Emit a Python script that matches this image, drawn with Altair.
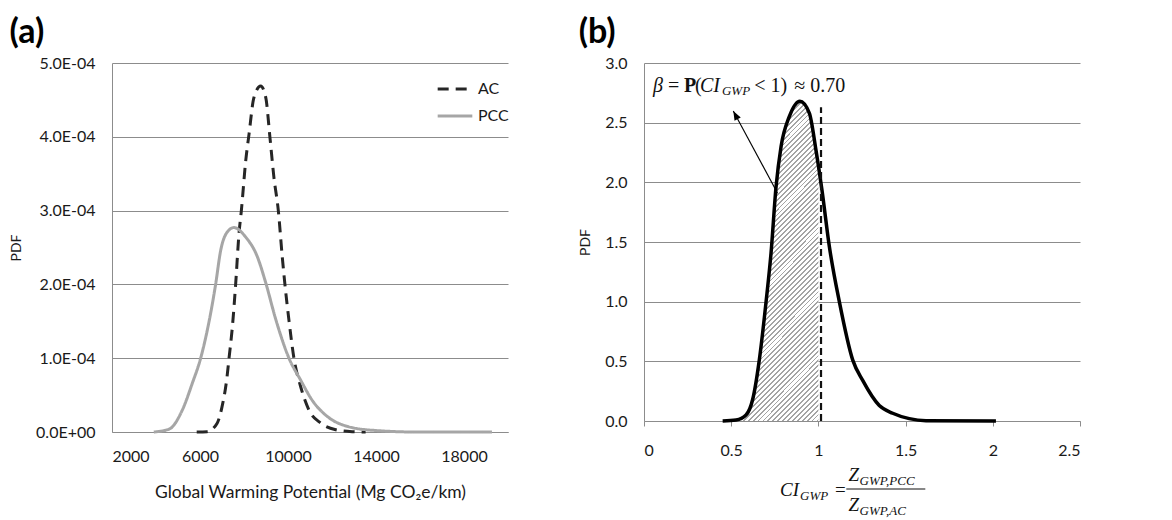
import altair as alt
import pandas as pd

# ---------------- Panel (a) data ----------------
ac_x = [5850, 6320, 6780, 7000, 7230, 7320, 7470, 7620, 7770, 7880, 8080, 8230, 8450, 8760,
        8990, 9180, 9360, 9560, 9740, 9860, 10045, 10270, 10580, 10950, 11490, 12170, 12920, 13530]
ac_y = [0.0, 0.005e-4, 0.12e-4, 0.34e-4, 0.75e-4, 1.0e-4, 1.42e-4, 2.0e-4, 2.68e-4, 3.0e-4, 3.68e-4,
        4.04e-4, 4.53e-4, 4.69e-4, 4.53e-4, 3.99e-4, 3.45e-4, 3.0e-4, 2.37e-4, 2.0e-4, 1.51e-4,
        1.0e-4, 0.61e-4, 0.30e-4, 0.12e-4, 0.03e-4, 0.005e-4, 0.0]
pcc_x = [3900, 4600, 5200, 5650, 6030, 6710, 6940, 7240, 7545, 8080, 8600, 8990, 9440, 10045,
         10580, 11100, 11790, 12770, 13990, 15800, 19270]
pcc_y = [0.0, 0.04e-4, 0.3e-4, 0.66e-4, 1.0e-4, 2.0e-4, 2.46e-4, 2.71e-4, 2.77e-4, 2.64e-4,
         2.38e-4, 2.02e-4, 1.53e-4, 1.0e-4, 0.70e-4, 0.43e-4, 0.21e-4, 0.07e-4, 0.02e-4, 0.0, 0.0]
series_names = ["AC", "PCC"]
a_xticks = [2000, 6000, 10000, 14000, 18000]
a_yticks = [0, 0.0001, 0.0002, 0.0003, 0.0004, 0.0005]

# ---------------- Panel (b) data ----------------
ci_x = [0.451, 0.528, 0.585, 0.623, 0.661, 0.70, 0.728, 0.757, 0.786, 0.833, 0.894, 0.948,
        0.986, 1.0, 1.02, 1.063, 1.12, 1.197, 1.254, 1.349, 1.426, 1.521, 1.617, 2.018]
ci_y = [0.0, 0.008, 0.05, 0.18, 0.51, 1.0, 1.40, 1.96, 2.30, 2.55, 2.68, 2.58,
        2.27, 2.14, 1.94, 1.46, 1.0, 0.51, 0.34, 0.13, 0.065, 0.02, 0.003, 0.0]
b_xticks = [0, 0.5, 1, 1.5, 2, 2.5]
b_yticks = [0, 0.5, 1.0, 1.5, 2.0, 2.5, 3.0]
threshold_x = [1.015]
threshold_top = [2.63]
beta_cut = 1.0

# annotation "β = P(CI_GWP < 1) ≈ 0.70"
ann_italic_text = ["β", "CI"]
ann_italic_x = [0.052, 0.321]
ann_plain_text = ["=", "(", "< 1)", "≈ 0.70"]
ann_plain_x = [0.138, 0.292, 0.632, 0.862]
ann_bold_text = ["P"]
ann_bold_x = [0.229]
ann_sub_text = ["GWP"]
ann_sub_x = [0.447]
ann_y = 2.758
ann_sub_y = 2.728
arrow_tail = [0.766, 1.909]
arrow_head = [0.512, 2.598]

# x-axis title of (b): CI_GWP = Z_GWP,PCC / Z_GWP,AC
xt_italic_text = ["CI", "Z", "Z"]
xt_italic_x = [0.780, 1.172, 1.172]
xt_italic_y = [-0.629, -0.503, -0.754]
xt_sub_text = ["GWP", "GWP,PCC", "GWP,AC"]
xt_sub_x = [0.895, 1.236, 1.236]
xt_sub_y = [-0.662, -0.536, -0.788]
xt_eq_x = [1.095]
xt_eq_y = [-0.629]
frac_x = [1.160]
frac_x2 = [1.613]
frac_y = [-0.570]

# ---------------- styles ----------------
SANS = "Lato"
SERIF = "Liberation Serif"
GRID = "#8c8c8c"
TXT = "#1a1a1a"

df_a = pd.DataFrame({
    "gwp": ac_x + pcc_x,
    "pdf": ac_y + pcc_y,
    "series": [series_names[0]] * len(ac_x) + [series_names[1]] * len(pcc_x),
})

leg = alt.Legend(title=None, orient="none", legendX=324, legendY=7, symbolType="stroke",
                 symbolSize=1200, symbolStrokeWidth=3.2, labelFontSize=16, labelFont=SANS,
                 labelColor=TXT, rowPadding=0, labelOffset=4, padding=0)

panel_a = alt.Chart(df_a).mark_line(strokeWidth=3, interpolate="monotone").encode(
    x=alt.X("gwp:Q", scale=alt.Scale(domain=[2000, 20000], nice=False, zero=False),
            axis=alt.Axis(values=a_xticks, format="d", ticks=False, grid=False,
                          domainColor=GRID, labelPadding=16, labelFontSize=16,
                          title="Global Warming Potential (Mg CO\u2082e/km)",
                          titleFontSize=17.5, titleFontWeight="normal", titlePadding=19)),
    y=alt.Y("pdf:Q", scale=alt.Scale(domain=[0, 0.0005], nice=False),
            axis=alt.Axis(values=a_yticks, ticks=False, grid=True, gridColor=GRID,
                          domainColor=GRID, labelPadding=17, labelFontSize=16,
                          labelExpr="datum.value == 0 ? '0.0E+00' : format(datum.value * 10000, '.1f') + 'E-04'",
                          title="PDF", titleFontSize=14, titleFontWeight="normal", titlePadding=12)),
    color=alt.Color("series:N", scale=alt.Scale(domain=series_names, range=["#262626", "#a6a6a6"]),
                    legend=leg),
    strokeDash=alt.StrokeDash("series:N", scale=alt.Scale(domain=series_names, range=[[11, 7], [1, 0]]),
                              legend=leg),
).properties(width=396, height=369,
             title=alt.TitleParams("(a)", anchor="start", frame="bounds", fontSize=34,
                                   font=SANS, fontWeight="bold", color="#000", offset=5))

# ---------------- Panel (b) ----------------
df_b = pd.DataFrame({"ci": ci_x, "pdf": ci_y})

xs = alt.Scale(domain=[0, 2.5], nice=False)
ys = alt.Scale(domain=[0, 3], nice=False)

n_stripes = 85
stops = []
for i in range(n_stripes):
    a = i / n_stripes
    b = (i + 0.38) / n_stripes
    c = (i + 1) / n_stripes
    stops += [alt.GradientStop(color="#a4a4a4", offset=a), alt.GradientStop(color="#a4a4a4", offset=b),
              alt.GradientStop(color="#ffffff", offset=b), alt.GradientStop(color="#ffffff", offset=c)]
hatch = alt.LinearGradient(gradient="linear", stops=stops, x1=0, y1=0, x2=0.36, y2=1.2)

base_b = alt.Chart(df_b)

shade = base_b.transform_filter(alt.datum.ci <= beta_cut).mark_area(
    color=hatch, interpolate="monotone").encode(
    x=alt.X("ci:Q", scale=xs), y=alt.Y("pdf:Q", scale=ys))

curve = base_b.mark_line(color="#000", strokeWidth=3.5, interpolate="monotone").encode(
    x=alt.X("ci:Q", scale=xs,
            axis=alt.Axis(values=b_xticks, labelExpr="format(datum.value, '~g')", grid=False,
                          ticks=True, tickSize=5, tickColor=GRID, domainColor=GRID,
                          labelPadding=16, labelFontSize=16, title=None)),
    y=alt.Y("pdf:Q", scale=ys,
            axis=alt.Axis(values=b_yticks, format=".1f", ticks=False, grid=True, gridColor=GRID,
                          domainColor=GRID, labelPadding=17, labelFontSize=16, title="PDF",
                          titleFontSize=14, titleFontWeight="normal", titlePadding=12)))

vline = alt.Chart(pd.DataFrame({"x": threshold_x, "y": [0], "y2": threshold_top})).mark_rule(
    color="#111", strokeWidth=2.2, strokeDash=[7, 4]).encode(
    x=alt.X("x:Q", scale=xs), y=alt.Y("y:Q", scale=ys), y2="y2:Q")

arrow_df = pd.DataFrame({"x": [arrow_tail[0]], "y": [arrow_tail[1]],
                         "x2": [arrow_head[0]], "y2": [arrow_head[1]]})
arrow_line = alt.Chart(arrow_df).mark_rule(color="#000", strokeWidth=1.1).encode(
    x=alt.X("x:Q", scale=xs), y=alt.Y("y:Q", scale=ys), x2="x2:Q", y2="y2:Q")
arrow_tip = alt.Chart(arrow_df).mark_point(
    shape="M0,0 L-0.5,1.3 L0.5,1.3 Z", filled=True, color="#000", opacity=1,
    size=200, angle=331.7).encode(x=alt.X("x2:Q", scale=xs), y=alt.Y("y2:Q", scale=ys))


def texts(tx, xv, yv, size, style="normal", weight="normal"):
    d = pd.DataFrame({"t": tx, "x": xv, "y": yv})
    return alt.Chart(d).mark_text(align="left", baseline="alphabetic", font=SERIF, fontSize=size,
                                  fontStyle=style, fontWeight=weight, color="#111").encode(
        x=alt.X("x:Q", scale=xs), y=alt.Y("y:Q", scale=ys), text="t:N")


ann = [
    texts(ann_italic_text, ann_italic_x, [ann_y] * len(ann_italic_x), 20, style="italic"),
    texts(ann_plain_text, ann_plain_x, [ann_y] * len(ann_plain_x), 20),
    texts(ann_bold_text, ann_bold_x, [ann_y] * len(ann_bold_x), 20, weight="bold"),
    texts(ann_sub_text, ann_sub_x, [ann_sub_y] * len(ann_sub_x), 13, style="italic"),
    texts(xt_italic_text, xt_italic_x, xt_italic_y, 19, style="italic"),
    texts(xt_sub_text, xt_sub_x, xt_sub_y, 13, style="italic"),
    texts(["="], xt_eq_x, xt_eq_y, 19),
]
frac = alt.Chart(pd.DataFrame({"x": frac_x, "x2": frac_x2, "y": frac_y})).mark_rule(
    color="#111", strokeWidth=1.2).encode(x=alt.X("x:Q", scale=xs), x2="x2:Q", y=alt.Y("y:Q", scale=ys))

panel_b = alt.layer(shade, curve, vline, arrow_line, arrow_tip, frac, *ann).properties(
    width=436, height=358,
    title=alt.TitleParams("(b)", anchor="start", frame="bounds", fontSize=34,
                          font=SANS, fontWeight="bold", color="#000", offset=5))

chart = alt.hconcat(panel_a, panel_b, spacing=70).properties(
    padding={"left": 1, "top": 8, "right": 0, "bottom": 0}
).configure_view(stroke=None).configure_axis(
    labelFont=SANS, titleFont=SANS, labelColor=TXT, titleColor=TXT, gridWidth=1, domainWidth=1
).configure_concat(spacing=70)

chart.save("out.html", embed_options={"renderer": "svg", "actions": False})
